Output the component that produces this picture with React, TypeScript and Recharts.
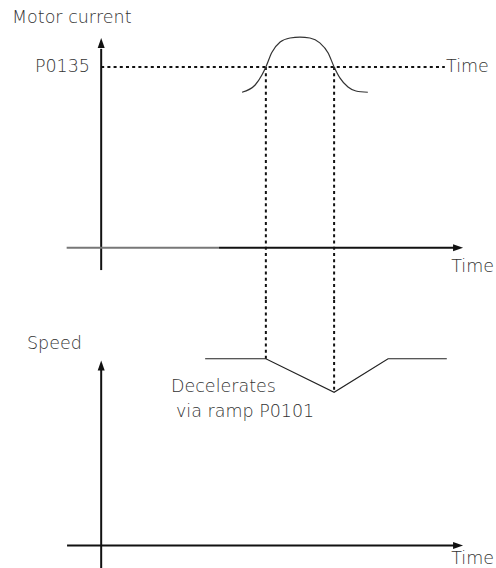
import { ComposedChart, Line, ReferenceLine, Scatter, XAxis, YAxis } from 'recharts'

// time axis (arbitrary units), current in % of P0135, speed in % of reference
const currentCurve = [
  { t: 3.55, v: 86 },
  { t: 3.88, v: 90 },
  { t: 4.05, v: 95.5 },
  { t: 4.15, v: 100 },
  { t: 4.3, v: 108 },
  { t: 4.51, v: 113.8 },
  { t: 4.76, v: 116 },
  { t: 5.01, v: 116.5 },
  { t: 5.26, v: 116 },
  { t: 5.51, v: 113.3 },
  { t: 5.72, v: 107.7 },
  { t: 5.87, v: 100 },
  { t: 6.02, v: 93.8 },
  { t: 6.22, v: 88.9 },
  { t: 6.42, v: 86.7 },
  { t: 6.72, v: 86 },
]

const speedCurve = [
  { t: 2.62, v: 100 },
  { t: 4.15, v: 100 },
  { t: 5.87, v: 82 },
  { t: 7.23, v: 100 },
  { t: 8.71, v: 100 },
]

const P0135 = 100
const tripTimes = [4.15, 5.87] // where current crosses P0135
const speedAtTrip = [100, 82]

const upArrows = [{ t: 0, v: 116 }]
const upArrowsSpeed = [{ t: 0, v: 99 }]
const rightArrows = [{ t: 9.12, v: 0 }]

const UpArrow = (p: any) => (
  <polygon points={`${p.cx},${p.cy} ${p.cx - 3.5},${p.cy + 10} ${p.cx + 3.5},${p.cy + 10}`} fill="#111" />
)
const RightArrow = (p: any) => (
  <polygon points={`${p.cx},${p.cy} ${p.cx - 10},${p.cy - 3.5} ${p.cx - 10},${p.cy + 3.5}`} fill="#111" />
)

const font = { fontFamily: '"DejaVu Sans"', fontSize: 17.5, fontWeight: 300, fill: '#333' }
const dotted = { stroke: '#111', strokeWidth: 2, strokeDasharray: '3 3.2' }

export default function App() {
  return (
    <div style={{ position: 'absolute', left: 0, top: 0, width: 496, height: 568, background: '#fff' }}>
      <ComposedChart width={496} height={568} margin={{ top: 0, right: 0, bottom: 0, left: 0 }}>
        <XAxis type="number" dataKey="t" domain={[-2.55, 9.95]} hide allowDataOverflow />
        <YAxis yAxisId="cur" type="number" domain={[-177, 137]} hide allowDataOverflow />
        <YAxis yAxisId="spd" type="number" domain={[-12, 292]} hide allowDataOverflow />

        {/* motor current panel */}
        <ReferenceLine yAxisId="cur" segment={[{ x: 0, y: -12.3 }, { x: 0, y: 110 }]} stroke="#111" strokeWidth={2} />
        <ReferenceLine yAxisId="cur" segment={[{ x: -0.87, y: 0 }, { x: 2.97, y: 0 }]} stroke="#777" strokeWidth={2} />
        <ReferenceLine yAxisId="cur" segment={[{ x: 2.97, y: 0 }, { x: 8.9, y: 0 }]} stroke="#111" strokeWidth={2} />
        <ReferenceLine yAxisId="cur" segment={[{ x: 0, y: P0135 }, { x: 8.66, y: P0135 }]} {...dotted} />
        {tripTimes.map((t) => (
          <ReferenceLine key={`c${t}`} yAxisId="cur" segment={[{ x: t, y: P0135 }, { x: t, y: -29 }]} {...dotted} />
        ))}
        <Line yAxisId="cur" data={currentCurve} dataKey="v" type="monotone" stroke="#333" strokeWidth={1.2} dot={false} isAnimationActive={false} />
        <Scatter yAxisId="cur" data={upArrows} dataKey="v" shape={UpArrow} isAnimationActive={false} />
        <Scatter yAxisId="cur" data={rightArrows} dataKey="v" shape={RightArrow} isAnimationActive={false} />

        {/* speed panel */}
        <ReferenceLine yAxisId="spd" segment={[{ x: 0, y: -12 }, { x: 0, y: 94 }]} stroke="#111" strokeWidth={2} />
        <ReferenceLine yAxisId="spd" segment={[{ x: -0.86, y: 0 }, { x: 8.9, y: 0 }]} stroke="#111" strokeWidth={2} />
        {tripTimes.map((t, i) => (
          <ReferenceLine key={`s${t}`} yAxisId="spd" segment={[{ x: t, y: 131.4 }, { x: t, y: speedAtTrip[i] }]} {...dotted} />
        ))}
        <Line yAxisId="spd" data={speedCurve} dataKey="v" type="linear" stroke="#222" strokeWidth={1.2} dot={false} isAnimationActive={false} />
        <Scatter yAxisId="spd" data={upArrowsSpeed} dataKey="v" shape={UpArrow} isAnimationActive={false} />
        <Scatter yAxisId="spd" data={rightArrows} dataKey="v" shape={RightArrow} isAnimationActive={false} />
      </ComposedChart>

      <svg width={496} height={568} style={{ position: 'absolute', left: 0, top: 0, pointerEvents: 'none' }}>
        <text x={12} y={23} {...font}>Motor current</text>
        <text x={90} y={72} textAnchor="end" {...font}>P0135</text>
        <text x={446} y={72} {...font}>Time</text>
        <text x={494} y={272} textAnchor="end" {...font}>Time</text>
        <text x={27} y={349} {...font}>Speed</text>
        <text x={171} y={392} {...font}>Decelerates</text>
        <text x={176} y={417} {...font}>via ramp P0101</text>
        <text x={494} y={564} textAnchor="end" {...font}>Time</text>
      </svg>
    </div>
  )
}
